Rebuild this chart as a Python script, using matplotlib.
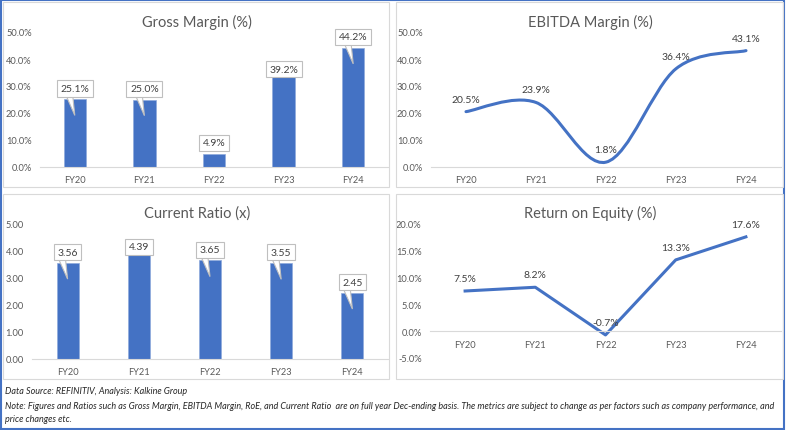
import matplotlib.pyplot as plt
import numpy as np
from matplotlib.patches import Rectangle, PathPatch, Polygon
from matplotlib.path import Path
from matplotlib.ticker import FuncFormatter

plt.rcParams['font.family'] = ['Lato', 'DejaVu Sans']
plt.rcParams['axes.unicode_minus'] = False

# data (bar heights as drawn in the picture, labels as printed)
years = ['FY20', 'FY21', 'FY22', 'FY23', 'FY24']
gross_margin = [25.1, 25.0, 4.9, 33.5, 44.2]
gross_labels = ['25.1%', '25.0%', '4.9%', '39.2%', '44.2%']
ebitda_margin = [20.5, 23.9, 1.8, 36.4, 43.1]
current_ratio = [3.56, 3.88, 3.65, 3.55, 2.45]
current_labels = ['3.56', '4.39', '3.65', '3.55', '2.45']
roe = [7.5, 8.2, -0.7, 13.3, 17.6]

W, H = 786, 431
blue = '#4472C4'
grey_txt = '#595959'
fig = plt.figure(figsize=(W / 100, H / 100), dpi=100)


def px_rect(l, t, r, b):
    return [l / W, 1 - b / H, (r - l) / W, (b - t) / H]


# outer frame and panel frames
fig.patches.append(Rectangle((0.001, 0.002), 0.997, 0.996, transform=fig.transFigure,
                             fill=False, ec=blue, lw=1.5))
for l, t, r, b in [(3, 3, 389, 188), (396, 3, 783, 188), (3, 195, 389, 380), (396, 195, 783, 380)]:
    x0, y0, w, h = px_rect(l, t, r, b)
    fig.patches.append(Rectangle((x0, y0), w, h, transform=fig.transFigure,
                                 fill=False, ec='#d9d9d9', lw=0.8))


def style(ax, ymin, ymax, step, fmt):
    for s in ['top', 'right', 'left']:
        ax.spines[s].set_visible(False)
    ax.spines['bottom'].set_color('#d9d9d9')
    ax.set_xlim(-0.5, 4.5)
    ax.set_ylim(ymin, ymax)
    ax.set_yticks(np.arange(ymin, ymax + step / 2, step))
    ax.yaxis.set_major_formatter(FuncFormatter(fmt))
    ax.set_xticks(range(len(years)))
    ax.set_xticklabels(years)
    ax.tick_params(length=0, labelsize=6.7, colors=grey_txt, pad=6)
    ax.patch.set_alpha(0)


def callouts(ax, vals, labels, rng):
    for i, (v, lbl) in enumerate(zip(vals, labels)):
        matches = abs(float(lbl.rstrip('%')) - v) < 0.005
        yc = v + (0.08 if matches else 0.055) * rng
        tip = v - 0.12 * rng
        if matches and tip > 0.2 * v:
            ax.add_patch(Polygon([(i - 0.17, yc), (i - 0.04, yc), (i, tip)], closed=True,
                                 fc='white', ec='#bfbfbf', lw=0.8, zorder=3))
        ax.text(i, yc, lbl, ha='center', va='center', fontsize=7.5, color='#404040',
                zorder=4, bbox=dict(boxstyle='square,pad=0.35', fc='white', ec='#bfbfbf', lw=0.8))


def line_labels(ax, vals):
    for i, v in enumerate(vals):
        ax.annotate(f'{v:.1f}%', xy=(i, v), xytext=(0, 9), textcoords='offset points',
                    ha='center', va='center', fontsize=7.5, color='#404040')


pct = lambda v, p: f'{v:.1f}%'

# Gross Margin
ax1 = fig.add_axes(px_rect(40, 33, 388, 168))
ax1.bar(range(5), gross_margin, width=0.32, color=blue, ec='#8faadc', lw=0.5)
style(ax1, 0, 50, 10, pct)
callouts(ax1, gross_margin, gross_labels, 50)

# EBITDA Margin (smoothed line)
ax2 = fig.add_axes(px_rect(431, 33, 781, 168))
style(ax2, 0, 50, 10, pct)
x = np.arange(5)
y = np.array(ebitda_margin)
verts = [(x[0], y[0])]
codes = [Path.MOVETO]
for i in range(4):
    a, d = max(i - 1, 0), min(i + 2, 4)
    verts += [(x[i] + (x[i + 1] - x[a]) / 6, y[i] + (y[i + 1] - y[a]) / 6),
              (x[i + 1] - (x[d] - x[i]) / 6, y[i + 1] - (y[d] - y[i]) / 6),
              (x[i + 1], y[i + 1])]
    codes += [Path.CURVE4] * 3
ax2.add_patch(PathPatch(Path(verts, codes), fill=False, ec=blue, lw=2.2, capstyle='round'))
line_labels(ax2, ebitda_margin)

# Current Ratio
ax3 = fig.add_axes(px_rect(32, 225, 388, 360))
ax3.bar(range(5), current_ratio, width=0.31, color=blue, ec='#8faadc', lw=0.5)
style(ax3, 0, 5, 1, lambda v, p: f'{v:.2f}')
callouts(ax3, current_ratio, current_labels, 5)

# Return on Equity
ax4 = fig.add_axes(px_rect(430, 225, 781, 359))
style(ax4, -5, 20, 5, pct)
ax4.spines['bottom'].set_position(('data', 0))
ax4.plot(range(5), roe, color=blue, lw=2.2, solid_joinstyle='round')
line_labels(ax4, roe)

# titles
for (cx, cy), t in zip([(197, 22), (590, 22), (197, 214), (590, 213)],
                       ['Gross Margin (%)', 'EBITDA Margin (%)', 'Current Ratio (x)', 'Return on Equity (%)']):
    fig.text(cx / W, 1 - cy / H, t, ha='center', va='center', fontsize=10.5, color=grey_txt)

# footnote
note_kw = dict(fontsize=6.5, style='italic', va='center', color='#262626')
fig.text(5 / W, 1 - 392 / H, 'Data Source: REFINITIV, Analysis: Kalkine Group', **note_kw)
fig.text(5 / W, 1 - 407 / H,
         'Note: Figures and Ratios such as Gross Margin, EBITDA Margin, RoE, and Current Ratio  are on full year '
         'Dec-ending basis. The metrics are subject to change as per factors such as company performance, and',
         **note_kw)
fig.text(5 / W, 1 - 420 / H, 'price changes etc.', **note_kw)

fig.savefig('out.png', dpi=100)
